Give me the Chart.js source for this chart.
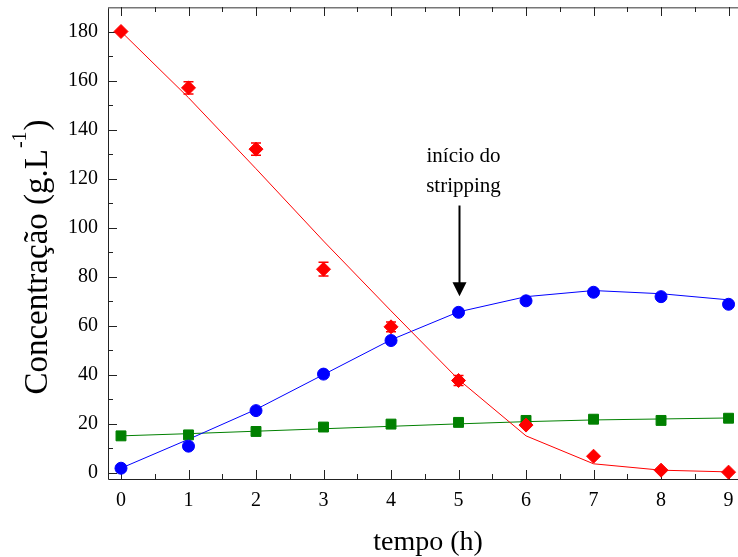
<!DOCTYPE html>
<html>
<head>
<meta charset="utf-8">
<script src="https://cdn.jsdelivr.net/npm/chart.js@4.4.0/dist/chart.umd.min.js"></script>
<style>html,body{margin:0;padding:0;background:#fff}</style>
</head>
<body>
<canvas id="chart" width="738" height="557"></canvas>
<script>
// tempo (h)
const tempo = [0, 1, 2, 3, 4, 5, 6, 7, 8, 9];

// red diamonds + fit line
const redPts = [180, 157, 132, 83, 59.5, 37.6, 19.4, 6.7, 1.0, 0.2];
const redErr = [0, 2.5, 2.5, 2.8, 2, 2, 0, 0, 0, 0];
const redFit = [180, 153, 124, 94.5, 66, 38, 15, 3.6, 1.0, 0.3];

// blue circles + fit line
const bluePts = [1.8, 10.8, 25.3, 40.2, 53.9, 65.4, 70.1, 73.6, 71.8, 68.7];
const blueFit = [1.8, 13.6, 25.8, 40, 54.2, 65.6, 71.8, 74.3, 73, 70.5];

// green squares + fit line
const greenPts = [15, 15.4, 16.8, 18.6, 19.8, 20.5, 21.3, 21.8, 21.3, 22.2];
const greenFit = [15, 15.9, 16.9, 17.9, 18.9, 19.9, 20.8, 21.5, 21.9, 22.3];

const xTicks = [0, 1, 2, 3, 4, 5, 6, 7, 8, 9];
const yTicks = [0, 20, 40, 60, 80, 100, 120, 140, 160, 180];

// arrow "início do stripping" (data units)
const arrowX = 5;
const arrowFrom = 109;
const arrowTo = 72;

const serif = '"Liberation Serif", "DejaVu Serif", serif';
const pts = arr => tempo.map((t, i) => ({x: t, y: arr[i]}));

const frame = {
  id: 'frame',
  beforeDatasetsDraw(chart) {
    const {ctx, chartArea: a, scales: {x, y}} = chart;
    ctx.save();
    ctx.lineWidth = 1;
    ctx.strokeStyle = '#222';
    ctx.beginPath();
    ctx.moveTo(a.left + 0.5, a.top);
    ctx.lineTo(a.left + 0.5, a.bottom + 0.5);
    ctx.lineTo(a.right, a.bottom + 0.5);
    ctx.stroke();
    ctx.strokeStyle = '#777';
    ctx.lineWidth = 1.5;
    ctx.beginPath();
    ctx.moveTo(a.left, a.top + 0.75);
    ctx.lineTo(a.right, a.top + 0.75);
    ctx.stroke();

    ctx.strokeStyle = '#222';
    ctx.lineWidth = 1;
    ctx.beginPath();
    for (let v = 0; v <= 9; v += 0.5) {
      const px = Math.round(x.getPixelForValue(v)) + 0.5;
      const len = v % 1 === 0 ? 9 : 5;
      ctx.moveTo(px, a.bottom);
      ctx.lineTo(px, a.bottom - len);
      ctx.moveTo(px, a.top);
      ctx.lineTo(px, a.top + len);
    }
    for (let v = 0; v <= 180; v += 10) {
      const py = Math.round(y.getPixelForValue(v)) + 0.5;
      const len = v % 20 === 0 ? 9 : 5;
      ctx.moveTo(a.left, py);
      ctx.lineTo(a.left + len, py);
    }
    ctx.stroke();

    // x tick labels
    ctx.fillStyle = '#000';
    ctx.font = '20px ' + serif;
    ctx.textAlign = 'center';
    ctx.textBaseline = 'alphabetic';
    xTicks.forEach(v => ctx.fillText(String(v), x.getPixelForValue(v), a.bottom + 27));
    ctx.restore();
  },
  afterDatasetsDraw(chart) {
    const {ctx, scales: {x, y}} = chart;
    ctx.save();
    ctx.strokeStyle = '#ff0000';
    ctx.lineWidth = 1.5;
    ctx.beginPath();
    tempo.forEach((t, i) => {
      if (!redErr[i]) return;
      const px = x.getPixelForValue(t);
      const y1 = y.getPixelForValue(redPts[i] + redErr[i]);
      const y2 = y.getPixelForValue(redPts[i] - redErr[i]);
      ctx.moveTo(px, y1); ctx.lineTo(px, y2);
      ctx.moveTo(px - 5, y1); ctx.lineTo(px + 5, y1);
      ctx.moveTo(px - 5, y2); ctx.lineTo(px + 5, y2);
    });
    ctx.stroke();
    ctx.restore();
  },
  afterDraw(chart) {
    const {ctx, scales: {x, y}} = chart;
    ctx.save();
    ctx.fillStyle = '#000';
    ctx.textBaseline = 'alphabetic';

    // x title
    ctx.font = '28px ' + serif;
    ctx.textAlign = 'center';
    ctx.fillText('tempo (h)', 428, 550);

    // y title with superscript
    ctx.translate(47, 257);
    ctx.rotate(-Math.PI / 2);
    const main = 'Concentração (g.L';
    const sup = '-1';
    const end = ')';
    ctx.font = '33px ' + serif;
    const wMain = ctx.measureText(main).width;
    const wEnd = ctx.measureText(end).width;
    ctx.font = '20px ' + serif;
    const wSup = ctx.measureText(sup).width;
    let sx = -(wMain + wSup + wEnd + 2) / 2;
    ctx.textAlign = 'left';
    ctx.font = '33px ' + serif;
    ctx.fillText(main, sx, 0);
    sx += wMain + 1;
    ctx.font = '20px ' + serif;
    ctx.fillText(sup, sx, -21);
    sx += wSup + 1;
    ctx.font = '33px ' + serif;
    ctx.fillText(end, sx, 0);
    ctx.setTransform(1, 0, 0, 1, 0, 0);

    // annotation
    const ax = Math.round(x.getPixelForValue(arrowX)) + 0.5;
    const ay1 = y.getPixelForValue(arrowFrom);
    const ay2 = y.getPixelForValue(arrowTo);
    ctx.font = '21px ' + serif;
    ctx.textAlign = 'center';
    ctx.fillText('início do', ax + 4, ay1 - 44);
    ctx.fillText('stripping', ax + 4, ay1 - 14);
    ctx.strokeStyle = '#000';
    ctx.lineWidth = 2;
    ctx.beginPath();
    ctx.moveTo(ax, ay1);
    ctx.lineTo(ax, ay2 - 12);
    ctx.stroke();
    ctx.beginPath();
    ctx.moveTo(ax - 7, ay2 - 14);
    ctx.lineTo(ax + 7, ay2 - 14);
    ctx.lineTo(ax, ay2);
    ctx.closePath();
    ctx.fill();
    ctx.restore();
  }
};

const lineDs = (data, color) => ({
  data: pts(data), borderColor: color, borderWidth: 1, pointRadius: 0,
  showLine: true, fill: false, tension: 0, order: 2, clip: false
});
const markDs = (data, color, style, r) => ({
  data: pts(data), backgroundColor: color, borderColor: color, borderWidth: 1,
  pointStyle: style, pointRadius: r, showLine: false, order: 1, clip: false
});

new Chart(document.getElementById('chart'), {
  type: 'scatter',
  data: {
    datasets: [
      markDs(redPts, '#ff0000', 'rectRot', 7),
      markDs(bluePts, '#0000ff', 'circle', 6),
      markDs(greenPts, '#008000', 'rect', 7),
      lineDs(redFit, '#ff0000'),
      lineDs(blueFit, '#0000ff'),
      lineDs(greenFit, '#008000')
    ]
  },
  options: {
    responsive: false,
    animation: false,
    devicePixelRatio: 1,
    layout: {autoPadding: false, padding: {top: 7, right: 0, left: 0, bottom: 0}},
    plugins: {legend: {display: false}, tooltip: {enabled: false}},
    scales: {
      x: {
        type: 'linear', min: -0.1925, max: 9.14,
        grid: {display: false, drawTicks: false},
        border: {display: false},
        afterBuildTicks: s => { s.ticks = xTicks.map(v => ({value: v})); },
        afterFit: s => { s.height = 78; s.paddingLeft = 0; s.paddingRight = 0; },
        ticks: {display: false}
      },
      y: {
        type: 'linear', min: -2.6, max: 190,
        grid: {display: false, drawTicks: false},
        border: {display: false},
        afterBuildTicks: s => { s.ticks = yTicks.map(v => ({value: v})); },
        afterFit: s => { s.width = 108; s.paddingTop = 0; s.paddingBottom = 0; },
        ticks: {padding: 10, color: '#000', font: {family: serif, size: 20}}
      }
    }
  },
  plugins: [frame]
});
</script>
</body>
</html>
